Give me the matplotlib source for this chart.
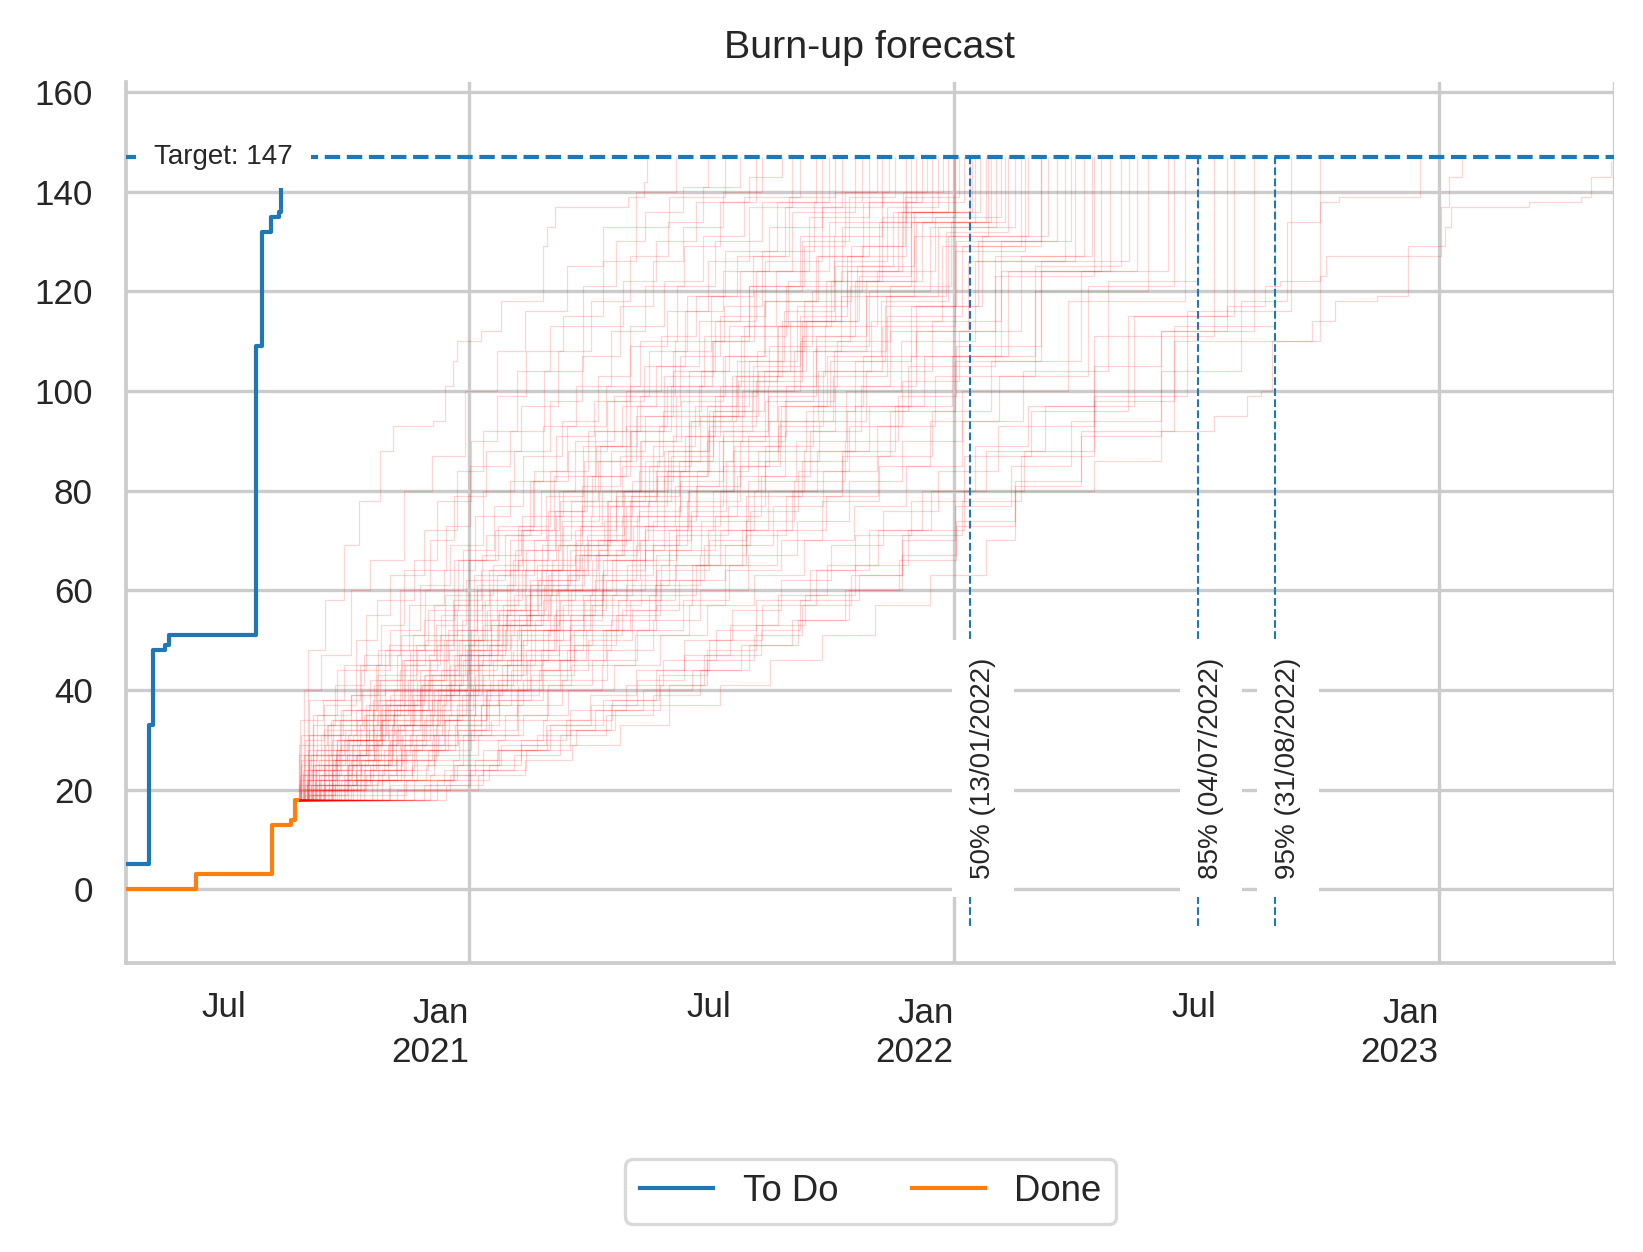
import datetime as dt

import matplotlib
matplotlib.use("Agg")
import matplotlib.pyplot as plt
import matplotlib.dates as mdates

plt.rcParams["font.family"] = ["Liberation Sans", "DejaVu Sans"]

# --- observed history ---------------------------------------------------
todo_dates = ["2020-04-18", "2020-05-05", "2020-05-08", "2020-05-17", "2020-05-20",
              "2020-07-25", "2020-07-29", "2020-08-05", "2020-08-11", "2020-08-13"]
todo_values = [5, 33, 48, 49, 51, 109, 132, 135, 136, 141]

done_dates = ["2020-04-18", "2020-06-10", "2020-08-06", "2020-08-20", "2020-08-23", "2020-08-25"]
done_values = [0, 3, 13, 14, 18, 18]

target = 147
forecast_start = "2020-08-25"
forecast_start_value = 18

percentile_labels = ["50%", "85%", "95%"]
percentile_dates = ["2022-01-13", "2022-07-04", "2022-08-31"]

x_range = ["2020-04-18", "2023-05-13"]

# --- simulated burn-up runs: (days after forecast start, items done) -----
run_01 = [(8, 48), (21, 58), (35, 69), (46, 78), (62, 88), (72, 93), (102, 94), (111, 101), (117, 106),
          (120, 110), (138, 112), (153, 118), (185, 129), (188, 133), (194, 137), (249, 139), (261, 142), (263, 147)]
run_02 = [(3, 26), (15, 35), (30, 44), (52, 55), (70, 63), (95, 72), (120, 84), (140, 92), (165, 104),
          (190, 113), (215, 121), (240, 130), (262, 136), (290, 141), (309, 147)]
run_03 = [(6, 30), (20, 37), (44, 50), (60, 58), (88, 66), (105, 78), (131, 90), (150, 99), (172, 108),
          (200, 115), (230, 126), (255, 133), (280, 139), (322, 147)]
run_04 = [(2, 22), (12, 33), (28, 41), (50, 47), (77, 60), (100, 70), (118, 79), (142, 88), (168, 97),
          (196, 108), (221, 118), (250, 127), (279, 134), (305, 141), (333, 147)]
run_05 = [(10, 27), (25, 34), (48, 44), (70, 52), (92, 61), (115, 69), (140, 80), (163, 88), (190, 98),
          (214, 107), (243, 117), (268, 126), (290, 133), (320, 140), (350, 147)]
run_06 = [(4, 24), (18, 31), (40, 39), (66, 48), (84, 57), (110, 64), (134, 75), (160, 82), (185, 93),
          (210, 101), (236, 112), (262, 121), (291, 129), (318, 138), (340, 143), (365, 147)]
run_07 = [(14, 28), (33, 36), (55, 42), (78, 51), (96, 60), (125, 68), (148, 77), (170, 87), (199, 94),
          (226, 103), (250, 113), (276, 122), (305, 131), (336, 139), (378, 147)]
run_08 = [(1, 29), (22, 33), (49, 40), (75, 47), (103, 57), (129, 66), (151, 73), (178, 84), (203, 93),
          (232, 101), (258, 110), (286, 121), (314, 130), (350, 138), (390, 147)]
run_09 = [(7, 21), (30, 30), (57, 38), (80, 46), (104, 53), (127, 62), (156, 71), (183, 80), (209, 90),
          (238, 99), (265, 108), (293, 119), (322, 128), (361, 138), (400, 147)]
run_10 = [(12, 25), (36, 32), (62, 42), (89, 49), (117, 58), (138, 64), (166, 73), (190, 84), (219, 92),
          (247, 100), (274, 111), (300, 119), (331, 127), (367, 137), (410, 147)]
run_11 = [(5, 27), (27, 34), (58, 41), (85, 48), (108, 55), (133, 63), (160, 70), (187, 79), (215, 89),
          (244, 97), (270, 105), (302, 114), (333, 124), (372, 136), (420, 147)]
run_12 = [(18, 23), (41, 29), (64, 37), (92, 44), (120, 52), (145, 60), (172, 68), (198, 78), (226, 86),
          (255, 95), (283, 104), (314, 114), (345, 124), (385, 135), (430, 147)]
run_13 = [(9, 31), (34, 36), (60, 43), (90, 48), (118, 57), (144, 64), (170, 72), (197, 80), (228, 89),
          (256, 97), (288, 107), (318, 115), (352, 126), (395, 137), (440, 147)]
run_14 = [(3, 20), (24, 27), (52, 35), (83, 42), (112, 50), (139, 57), (166, 66), (195, 75), (222, 83),
          (250, 92), (281, 101), (312, 110), (344, 120), (380, 130), (415, 139), (450, 147)]
run_15 = [(16, 26), (45, 34), (70, 39), (99, 47), (124, 54), (150, 63), (178, 70), (206, 78), (236, 88),
          (262, 95), (295, 104), (325, 113), (360, 124), (400, 134), (458, 147)]
run_16 = [(8, 22), (29, 28), (57, 36), (86, 40), (114, 48), (143, 56), (171, 64), (200, 73), (229, 80),
          (258, 90), (289, 98), (320, 107), (352, 118), (390, 127), (426, 138), (466, 147)]
run_17 = [(21, 29), (47, 33), (73, 40), (100, 46), (131, 52), (158, 61), (184, 69), (214, 77), (244, 85),
          (272, 93), (302, 101), (334, 111), (368, 121), (404, 131), (440, 140), (474, 147)]
run_18 = [(11, 24), (39, 30), (68, 37), (95, 43), (122, 50), (152, 56), (180, 65), (209, 72), (240, 80),
          (268, 89), (299, 97), (331, 106), (366, 116), (404, 126), (444, 137), (482, 147)]
run_19 = [(6, 19), (28, 26), (58, 33), (88, 38), (115, 45), (146, 53), (175, 60), (203, 69), (235, 77),
          (265, 85), (296, 94), (330, 103), (365, 114), (405, 125), (448, 136), (490, 147)]
run_20 = [(26, 27), (54, 32), (80, 38), (108, 44), (136, 51), (163, 59), (192, 66), (221, 75), (252, 82),
          (283, 91), (314, 99), (346, 108), (381, 118), (417, 129), (457, 139), (498, 147)]
run_21 = [(4, 23), (33, 29), (64, 34), (93, 41), (123, 47), (151, 55), (181, 62), (210, 70), (240, 79),
          (271, 86), (303, 95), (336, 104), (371, 114), (409, 124), (452, 136), (506, 147)]
run_22 = [(15, 21), (44, 27), (72, 35), (103, 40), (131, 48), (160, 54), (189, 63), (219, 70), (250, 78),
          (281, 87), (313, 95), (347, 104), (383, 114), (421, 125), (464, 136), (514, 147)]
run_23 = [(9, 26), (37, 30), (66, 36), (98, 42), (128, 48), (157, 55), (186, 61), (216, 69), (247, 77),
          (278, 84), (310, 93), (345, 102), (380, 111), (420, 122), (466, 134), (522, 147)]
run_24 = [(31, 24), (59, 31), (87, 35), (116, 42), (144, 49), (173, 55), (204, 63), (233, 70), (264, 78),
          (295, 86), (328, 94), (361, 103), (397, 113), (436, 124), (480, 135), (530, 147)]
run_25 = [(7, 22), (40, 26), (71, 33), (101, 38), (130, 45), (161, 51), (190, 59), (222, 66), (253, 73),
          (284, 81), (317, 90), (352, 98), (388, 108), (428, 119), (482, 133), (540, 147)]
run_26 = [(19, 20), (48, 25), (79, 31), (109, 37), (140, 43), (170, 50), (200, 57), (230, 64), (262, 72),
          (294, 80), (328, 88), (362, 97), (399, 107), (439, 118), (490, 131), (550, 147)]
run_27 = [(13, 25), (46, 29), (76, 33), (106, 40), (137, 45), (168, 52), (198, 58), (230, 66), (262, 73),
          (295, 80), (329, 89), (364, 97), (401, 106), (442, 117), (496, 130), (560, 147)]
run_28 = [(35, 23), (65, 28), (94, 34), (124, 39), (154, 45), (185, 52), (216, 58), (248, 65), (280, 72),
          (313, 80), (347, 88), (383, 96), (420, 106), (462, 117), (512, 130), (572, 147)]
run_29 = [(5, 20), (38, 25), (70, 30), (102, 35), (134, 41), (165, 47), (197, 54), (229, 60), (262, 68),
          (296, 75), (331, 83), (367, 92), (405, 101), (446, 112), (505, 126), (585, 147)]
run_30 = [(24, 22), (57, 26), (89, 31), (120, 37), (151, 42), (183, 48), (215, 55), (247, 61), (280, 68),
          (314, 75), (349, 83), (386, 92), (424, 101), (466, 112), (525, 127), (598, 147)]
run_31 = [(10, 21), (44, 24), (78, 29), (110, 34), (143, 40), (175, 46), (208, 52), (241, 58), (274, 65),
          (309, 72), (344, 80), (381, 88), (420, 97), (462, 107), (530, 124), (612, 147)]
run_32 = [(42, 22), (75, 27), (106, 31), (138, 37), (170, 42), (203, 48), (236, 54), (269, 61), (303, 67),
          (338, 74), (374, 82), (412, 90), (452, 99), (496, 109), (560, 126), (626, 147)]
run_33 = [(17, 20), (52, 23), (86, 28), (119, 33), (152, 38), (185, 44), (219, 50), (252, 56), (287, 62),
          (322, 69), (358, 77), (396, 84), (436, 93), (480, 103), (555, 120), (640, 147)]
run_34 = [(56, 22), (90, 26), (122, 30), (156, 35), (189, 41), (222, 46), (256, 52), (290, 58), (325, 65),
          (361, 72), (398, 79), (437, 87), (478, 96), (522, 106), (590, 124), (655, 147)]
run_35 = [(28, 21), (64, 24), (98, 28), (131, 32), (165, 37), (199, 42), (233, 48), (268, 54), (303, 60),
          (339, 67), (376, 74), (415, 82), (455, 90), (500, 100), (580, 118), (668, 147)]
run_36 = [(69, 23), (103, 27), (136, 31), (170, 35), (204, 40), (238, 45), (273, 51), (308, 57), (344, 63),
          (381, 70), (419, 77), (458, 85), (500, 94), (546, 104), (610, 122), (678, 147)]
run_37 = [(45, 19), (82, 22), (117, 26), (151, 30), (185, 34), (220, 39), (255, 44), (291, 50), (327, 56),
          (364, 62), (402, 69), (441, 76), (482, 84), (527, 93), (600, 111), (690, 147)]
run_38 = [(88, 22), (120, 25), (153, 29), (187, 33), (221, 37), (256, 42), (291, 47), (326, 53), (362, 59),
          (399, 65), (437, 72), (477, 80), (518, 88), (563, 97), (630, 115), (705, 147)]
run_39 = [(112, 21), (140, 24), (172, 28), (205, 32), (239, 36), (273, 41), (308, 46), (344, 51), (380, 57),
          (417, 63), (455, 70), (495, 77), (537, 85), (582, 94), (650, 112), (720, 147)]
run_40 = [(60, 20), (100, 23), (134, 26), (168, 30), (202, 34), (237, 38), (272, 43), (308, 48), (345, 53),
          (382, 59), (420, 65), (460, 72), (502, 80), (547, 88), (600, 98), (660, 113), (736, 147)]
run_41 = [(95, 21), (130, 24), (163, 27), (198, 31), (232, 35), (268, 39), (303, 44), (340, 49), (377, 54),
          (415, 60), (455, 67), (496, 74), (540, 82), (590, 92), (660, 110), (770, 147)]
run_42 = [(80, 22), (118, 25), (152, 28), (188, 32), (224, 36), (260, 40), (297, 44), (334, 49), (372, 54),
          (412, 60), (453, 66), (496, 73), (540, 81), (590, 91), (650, 104), (710, 118), (745, 134),
          (770, 138), (784, 139), (845, 147)]
run_43 = [(100, 20), (136, 23), (171, 26), (207, 29), (243, 33), (280, 37), (318, 41), (356, 46), (395, 51),
          (435, 57), (476, 63), (518, 70), (540, 80), (600, 86), (650, 92), (690, 95), (715, 99), (725, 100),
          (734, 110), (764, 114), (781, 118), (813, 119), (836, 129), (861, 137), (867, 143), (877, 147)]
run_44 = [(70, 21), (110, 24), (150, 28), (190, 33), (230, 38), (270, 44), (310, 50), (350, 57), (390, 64),
          (430, 72), (470, 80), (510, 89), (550, 97), (600, 105), (650, 112), (700, 117), (728, 121),
          (740, 122), (770, 123), (774, 127), (861, 129), (864, 133), (868, 137), (927, 138), (966, 139),
          (974, 143), (989, 146)]
run_45 = [(2, 34), (19, 38), (47, 45), (69, 49), (98, 56), (121, 66), (149, 72), (177, 82), (204, 88),
          (233, 98), (261, 105), (292, 116), (320, 124), (355, 133), (395, 147)]
run_46 = [(11, 20), (26, 30), (54, 37), (81, 45), (107, 51), (135, 60), (162, 66), (189, 76), (218, 83),
          (247, 93), (278, 101), (306, 111), (340, 121), (378, 131), (405, 140), (436, 147)]
run_47 = [(20, 32), (50, 35), (77, 44), (105, 49), (133, 55), (160, 64), (188, 71), (214, 81), (243, 87),
          (275, 96), (304, 104), (336, 113), (369, 122), (410, 133), (462, 147)]
run_48 = [(3, 25), (31, 28), (60, 35), (87, 39), (118, 47), (146, 54), (175, 61), (205, 68), (233, 78),
          (262, 86), (295, 94), (327, 103), (362, 113), (398, 122), (438, 134), (478, 147)]
run_49 = [(14, 24), (42, 31), (73, 36), (101, 43), (129, 49), (158, 56), (187, 64), (218, 71), (246, 80),
          (279, 88), (310, 96), (343, 105), (378, 115), (414, 124), (455, 136), (494, 147)]
run_50 = [(8, 28), (38, 31), (67, 38), (96, 43), (126, 49), (155, 57), (183, 64), (213, 73), (245, 80),
          (276, 88), (308, 97), (340, 106), (376, 117), (414, 127), (458, 138), (502, 147)]
run_51 = [(23, 20), (51, 26), (81, 33), (110, 39), (139, 46), (168, 53), (197, 60), (227, 68), (257, 76),
          (288, 84), (320, 92), (354, 101), (390, 111), (428, 122), (470, 134), (510, 147)]
run_52 = [(1, 27), (35, 30), (63, 34), (94, 41), (125, 46), (154, 53), (183, 60), (214, 67), (244, 75),
          (276, 83), (309, 92), (342, 100), (378, 110), (416, 121), (462, 134), (518, 147)]
run_53 = [(16, 23), (47, 28), (77, 33), (107, 39), (136, 47), (165, 52), (195, 60), (225, 67), (256, 75),
          (288, 82), (320, 91), (354, 99), (390, 109), (430, 120), (476, 133), (526, 147)]
run_54 = [(27, 26), (58, 29), (86, 36), (115, 40), (147, 46), (176, 52), (206, 60), (237, 66), (268, 74),
          (300, 81), (333, 90), (367, 98), (404, 108), (443, 119), (488, 132), (535, 147)]
run_55 = [(6, 21), (41, 25), (71, 30), (100, 36), (132, 41), (162, 48), (193, 55), (224, 62), (255, 69),
          (287, 77), (320, 85), (355, 94), (392, 104), (432, 114), (485, 129), (545, 147)]
run_56 = [(38, 25), (68, 29), (97, 35), (127, 40), (158, 46), (189, 52), (220, 59), (252, 66), (285, 73),
          (318, 80), (352, 89), (388, 97), (426, 107), (466, 117), (515, 131), (565, 147)]
run_57 = [(12, 19), (45, 22), (78, 28), (111, 34), (142, 40), (173, 46), (205, 53), (237, 59), (270, 67),
          (304, 74), (339, 82), (375, 90), (413, 100), (454, 110), (510, 126), (578, 147)]
run_58 = [(50, 24), (82, 28), (113, 32), (144, 38), (176, 43), (208, 49), (240, 55), (273, 62), (306, 69),
          (341, 76), (377, 84), (415, 93), (455, 102), (498, 112), (545, 127), (592, 147)]
run_59 = [(21, 21), (55, 24), (88, 29), (120, 35), (152, 40), (184, 46), (217, 52), (250, 58), (284, 65),
          (318, 72), (354, 80), (391, 88), (430, 97), (472, 107), (535, 124), (605, 147)]
run_60 = [(33, 22), (68, 26), (101, 30), (133, 35), (165, 40), (198, 46), (232, 52), (265, 59), (300, 65),
          (335, 72), (372, 80), (410, 88), (450, 97), (493, 107), (555, 125), (620, 147)]
run_61 = [(5, 40), (18, 47), (40, 60), (55, 66), (80, 80), (101, 87), (126, 100), (150, 108), (171, 116),
          (203, 125), (230, 133), (255, 140), (285, 147)]
run_62 = [(1, 21), (9, 38), (35, 45), (63, 53), (80, 64), (112, 73), (130, 85), (160, 92), (186, 104),
          (215, 113), (245, 122), (270, 130), (300, 138), (345, 147)]
run_63 = [(12, 35), (40, 39), (61, 48), (95, 54), (118, 66), (142, 71), (175, 82), (195, 91), (223, 98),
          (250, 109), (278, 116), (309, 126), (340, 137), (372, 147)]
run_64 = [(26, 24), (32, 34), (66, 40), (87, 51), (120, 56), (139, 67), (168, 72), (193, 83), (225, 89),
          (250, 101), (283, 108), (311, 119), (343, 127), (370, 139), (405, 147)]
run_65 = [(3, 31), (44, 36), (59, 45), (96, 50), (111, 59), (147, 65), (169, 75), (200, 80), (224, 92),
          (258, 99), (284, 110), (321, 117), (350, 128), (389, 138), (425, 147)]
run_66 = [(17, 22), (23, 33), (61, 38), (79, 46), (113, 52), (135, 61), (164, 68), (194, 76), (216, 86),
          (251, 92), (276, 103), (313, 110), (340, 121), (381, 129), (412, 140), (445, 147)]
run_67 = [(9, 19), (37, 27), (52, 37), (90, 42), (110, 50), (141, 58), (169, 64), (199, 74), (227, 80),
          (259, 90), (285, 99), (322, 107), (351, 118), (392, 127), (430, 138), (470, 147)]
run_68 = [(30, 30), (62, 33), (85, 41), (119, 45), (140, 53), (172, 59), (196, 69), (231, 74), (257, 84),
          (292, 91), (318, 101), (355, 109), (387, 120), (425, 129), (456, 140), (486, 147)]
run_69 = [(2, 23), (48, 26), (63, 36), (99, 39), (122, 47), (156, 52), (175, 62), (212, 67), (234, 78),
          (270, 84), (295, 95), (332, 102), (361, 113), (402, 122), (440, 135), (495, 147)]
run_70 = [(20, 25), (53, 29), (75, 37), (112, 41), (133, 50), (167, 55), (191, 64), (226, 70), (251, 79),
          (287, 86), (313, 96), (351, 104), (380, 114), (423, 123), (462, 136), (508, 147)]
run_71 = [(7, 24), (29, 27), (69, 32), (92, 40), (128, 44), (150, 53), (185, 58), (209, 67), (246, 73),
          (271, 83), (308, 90), (335, 100), (374, 108), (409, 119), (464, 131), (520, 147)]
run_72 = [(40, 21), (61, 30), (95, 34), (122, 41), (158, 45), (179, 54), (215, 59), (240, 68), (276, 75),
          (301, 84), (339, 91), (368, 101), (406, 110), (446, 121), (492, 134), (533, 147)]
run_73 = [(13, 22), (55, 25), (74, 32), (114, 35), (134, 43), (172, 48), (195, 56), (232, 62), (258, 70),
          (296, 76), (323, 86), (362, 93), (396, 104), (440, 113), (495, 128), (548, 147)]
run_74 = [(25, 20), (45, 27), (85, 31), (105, 38), (145, 42), (168, 50), (205, 55), (229, 63), (268, 69),
          (293, 78), (333, 85), (363, 94), (403, 103), (444, 115), (500, 129), (560, 147)]
run_75 = [(47, 23), (74, 26), (104, 33), (138, 37), (161, 44), (197, 49), (222, 57), (259, 62), (285, 71),
          (324, 77), (352, 86), (393, 94), (428, 104), (478, 114), (530, 130), (582, 147)]
run_76 = [(8, 20), (60, 22), (80, 29), (121, 32), (142, 39), (182, 44), (205, 51), (244, 56), (270, 64),
          (310, 70), (338, 79), (380, 86), (414, 96), (460, 105), (525, 123), (600, 147)]
run_77 = [(36, 22), (86, 25), (103, 31), (146, 34), (166, 41), (206, 45), (230, 52), (270, 57), (297, 65),
          (338, 71), (368, 79), (410, 87), (446, 96), (495, 106), (560, 124), (632, 147)]
run_78 = [(64, 22), (97, 25), (125, 31), (166, 34), (188, 40), (229, 45), (254, 51), (295, 57), (322, 64),
          (364, 70), (395, 78), (438, 85), (476, 94), (528, 103), (595, 121), (660, 147)]
run_79 = [(75, 20), (115, 23), (140, 28), (180, 31), (205, 36), (247, 41), (275, 46), (315, 52), (345, 58),
          (386, 64), (420, 71), (462, 78), (502, 87), (552, 96), (625, 115), (700, 147)]
run_80 = [(105, 22), (144, 25), (168, 29), (210, 32), (236, 37), (280, 41), (306, 47), (349, 52), (378, 58),
          (423, 63), (455, 71), (500, 78), (545, 87), (600, 99), (670, 116), (748, 147)]

runs = [run_01, run_02, run_03, run_04, run_05, run_06, run_07, run_08, run_09, run_10,
        run_11, run_12, run_13, run_14, run_15, run_16, run_17, run_18, run_19, run_20,
        run_21, run_22, run_23, run_24, run_25, run_26, run_27, run_28, run_29, run_30,
        run_31, run_32, run_33, run_34, run_35, run_36, run_37, run_38, run_39, run_40,
        run_41, run_42, run_43, run_44, run_45, run_46, run_47, run_48, run_49, run_50,
        run_51, run_52, run_53, run_54, run_55, run_56, run_57, run_58, run_59, run_60,
        run_61, run_62, run_63, run_64, run_65, run_66, run_67, run_68, run_69, run_70,
        run_71, run_72, run_73, run_74, run_75, run_76, run_77, run_78, run_79, run_80]


def to_date(s):
    return dt.datetime.strptime(s, "%Y-%m-%d")


TEXT = "#262626"
GRID = "#cccccc"

fig = plt.figure(figsize=(8.215, 6.26), dpi=200)
ax = fig.add_axes([0.0767, 0.2308, 0.9056, 0.7037])

# simulations
start = to_date(forecast_start)
for run in runs:
    xs = [start] + [start + dt.timedelta(days=d) for d, _ in run]
    ys = [forecast_start_value] + [v for _, v in run]
    ax.plot(xs, ys, drawstyle="steps-post", color="red", lw=0.45, alpha=0.17, zorder=2)

ax.plot([to_date(d) for d in todo_dates], todo_values, drawstyle="steps-post",
        color="#1f77b4", lw=1.5, label="To Do", zorder=3)
ax.plot([to_date(d) for d in done_dates], done_values, drawstyle="steps-post",
        color="#ff7f0e", lw=1.5, label="Done", zorder=3)

# target line + label
ax.axhline(target, color="#1f77b4", ls="--", lw=1.5, zorder=4)
ax.text(to_date("2020-05-09"), target, f"Target: {target}", fontsize=10, color=TEXT,
        ha="left", va="center", zorder=5,
        bbox=dict(facecolor="white", edgecolor="none", pad=6.5))

# percentile forecast lines
for lab, d in zip(percentile_labels, percentile_dates):
    xd = to_date(d)
    ax.vlines(xd, -0.05 * target, target, color="#1f77b4", ls="--", lw=0.75, zorder=4)
    ax.text(xd, 2, f"{lab} ({xd:%d/%m/%Y})", rotation=90, fontsize=10, color=TEXT,
            ha="left", va="bottom", zorder=5,
            bbox=dict(facecolor="white", edgecolor="none", pad=6.5))

ax.set_xlim(to_date(x_range[0]), to_date(x_range[1]))
ax.set_ylim(-14.8, 162)
ax.set_yticks(range(0, 161, 20))

ax.xaxis.set_major_locator(mdates.YearLocator())
ax.xaxis.set_major_formatter(mdates.DateFormatter("%b\n%Y"))
ax.xaxis.set_minor_locator(mdates.MonthLocator(bymonth=7))
ax.xaxis.set_minor_formatter(mdates.DateFormatter("%b"))
for lbl in ax.get_xticklabels(which="major"):
    lbl.set_ha("right")

ax.tick_params(axis="x", which="major", length=0, pad=12.4, labelsize=12.6, labelcolor=TEXT)
ax.tick_params(axis="x", which="minor", length=0, pad=9.9, labelsize=12.6, labelcolor=TEXT)
ax.tick_params(axis="y", length=0, pad=11.9, labelsize=12.6, labelcolor=TEXT)

ax.grid(True, which="major", color=GRID, lw=1.2, zorder=0)
ax.set_axisbelow(True)
ax.axvline(to_date(x_range[1]), color=GRID, lw=1.2, zorder=0)

for side in ["top", "right"]:
    ax.spines[side].set_visible(False)
for side in ["left", "bottom"]:
    ax.spines[side].set_color(GRID)
    ax.spines[side].set_linewidth(1.35)

ax.set_title("Burn-up forecast", fontsize=14.2, color=TEXT, pad=8.6)

leg = fig.legend(loc="upper center", bbox_to_anchor=(0.53, 0.074), ncol=2,
                 fontsize=13.2, frameon=True, borderaxespad=0)
leg.get_frame().set_edgecolor("#d0d0d0")
leg.get_frame().set_linewidth(1.2)
for t in leg.get_texts():
    t.set_color(TEXT)

fig.savefig("out.png", dpi=200)
